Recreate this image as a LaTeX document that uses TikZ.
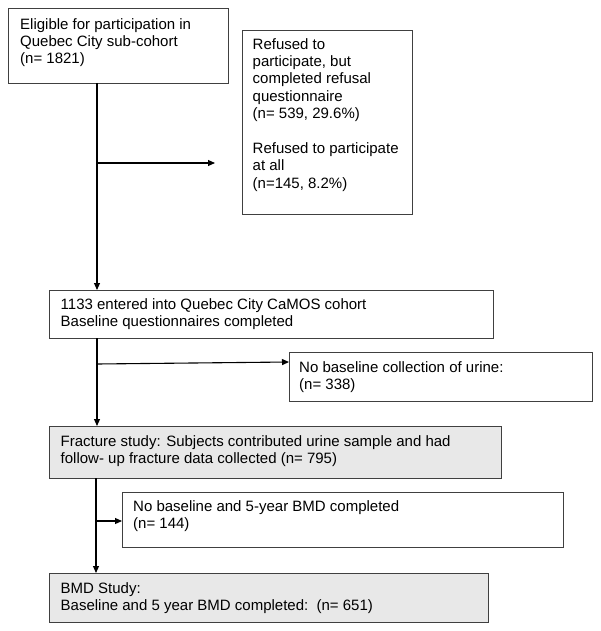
\documentclass[tikz,border=0pt]{standalone}
\usepackage{fontspec}
\setmainfont{Liberation Sans}
\usetikzlibrary{arrows.meta}
\begin{document}
\begin{tikzpicture}[x=1pt,y=-1pt,
  box/.style={draw=black!75, line width=1.1pt, anchor=north west, inner sep=0pt},
  shaded/.style={box, fill=black!9},
  txt/.style={anchor=north west, inner sep=0pt, align=left, font=\fontsize{15}{17.4}\selectfont},
  conn/.style={line width=1.1pt, draw=black},
  arr/.style={conn, -{Triangle[length=7pt,width=6pt]}}]
\useasboundingbox (0,0) rectangle (600,631);
% boxes
\node[box, minimum width=220pt, minimum height=75pt] (b1) at (8,8) {};
\node[box, minimum width=170pt, minimum height=184pt] (ref) at (242,30) {};
\node[box, minimum width=444pt, minimum height=48pt] (b2) at (49,290) {};
\node[box, minimum width=303pt, minimum height=49pt] (uri) at (289,352) {};
\node[shaded, minimum width=452pt, minimum height=52pt] (b3) at (49,426) {};
\node[box, minimum width=441pt, minimum height=55pt] (bmdno) at (122,492) {};
\node[shaded, minimum width=439pt, minimum height=49pt] (b4) at (49,573) {};
% texts
\node[txt] (t1) at (20,18) {Eligible for participation in\\Quebec City sub-cohort\\(n= 1821)};
\node[txt] (tref) at (252.5,38) {Refused to\\participate, but\\completed refusal\\questionnaire\\(n= 539, 29.6\%)\\[17.4pt]Refused to participate\\at all\\(n=145, 8.2\%)};
\node[txt] (t2) at (60.5,298.5) {1133 entered into Quebec City CaMOS cohort\\Baseline questionnaires completed};
\node[txt] (turi) at (299,361) {No baseline collection of urine:\\(n= 338)};
\node[txt] (t3) at (60.5,435) {Fracture study: Subjects contributed urine sample and had\\follow- up fracture data collected (n= 795)};
\node[txt] (tno) at (133,500.5) {No baseline and 5-year BMD completed\\(n= 144)};
\node[txt] (t4) at (60.5,582) {BMD Study:\\Baseline and 5 year BMD completed:\ \ (n= 651)};
% connectors
\coordinate (s1) at (97,83);
\coordinate (j1) at (97,163);
\coordinate (e1) at (215,163);
\draw[arr] (s1) -- (s1 |- b2.north);
\draw[arr] (j1) -- (e1);
\coordinate (s2) at (97,338);
\coordinate (j2) at (97,364);
\draw[arr] (s2) -- (s2 |- b3.north);
\draw[arr] (j2) -- (uri.west |- 0,362);
\coordinate (s3) at (96,478);
\coordinate (j3) at (96,521);
\draw[arr] (s3) -- (s3 |- b4.north);
\draw[arr] (j3) -- (bmdno.west |- j3);
\end{tikzpicture}
\end{document}
